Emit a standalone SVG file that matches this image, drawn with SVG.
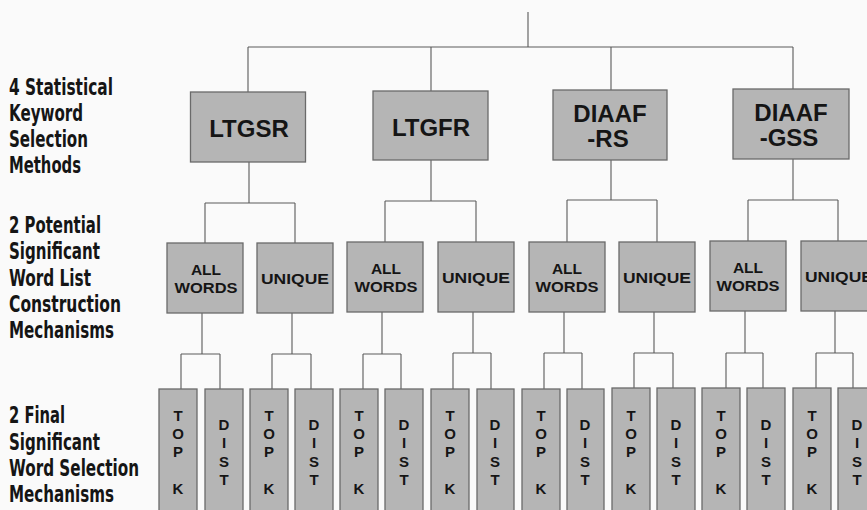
<svg xmlns="http://www.w3.org/2000/svg" width="867" height="510" viewBox="0 0 867 510">
<style>
.bg{fill:#fafafa}
.box{fill:#b5b5b5;stroke:#6a6a6a;stroke-width:1.3}
.ln{fill:none;stroke:#5a5a5a;stroke-width:1.1}
.t1{font-family:"Liberation Sans",Arial,sans-serif;font-weight:bold;font-size:24px;fill:#151515;text-anchor:middle}
.t2{font-family:"Liberation Sans",Arial,sans-serif;font-weight:bold;font-size:15.5px;fill:#151515;text-anchor:middle}
.t3{font-family:"Liberation Sans",Arial,sans-serif;font-weight:bold;font-size:15px;fill:#151515;text-anchor:middle}
.lab{font-family:"DejaVu Sans Condensed","Liberation Sans Narrow",sans-serif;font-weight:bold;font-size:22.5px;fill:#151515}
</style>
<rect class="bg" x="0" y="0" width="867" height="510"/>
<g id="labels">
<text class="lab" x="9" y="95" textLength="104" lengthAdjust="spacingAndGlyphs">4 Statistical</text>
<text class="lab" x="9" y="121" textLength="74" lengthAdjust="spacingAndGlyphs">Keyword</text>
<text class="lab" x="9" y="147" textLength="79" lengthAdjust="spacingAndGlyphs">Selection</text>
<text class="lab" x="9" y="173" textLength="72" lengthAdjust="spacingAndGlyphs">Methods</text>
<text class="lab" x="9" y="233" textLength="92" lengthAdjust="spacingAndGlyphs">2 Potential</text>
<text class="lab" x="9" y="259" textLength="91" lengthAdjust="spacingAndGlyphs">Significant</text>
<text class="lab" x="9" y="286" textLength="82" lengthAdjust="spacingAndGlyphs">Word List</text>
<text class="lab" x="9" y="312" textLength="112" lengthAdjust="spacingAndGlyphs">Construction</text>
<text class="lab" x="9" y="338" textLength="105" lengthAdjust="spacingAndGlyphs">Mechanisms</text>
<text class="lab" x="9" y="423" textLength="56" lengthAdjust="spacingAndGlyphs">2 Final</text>
<text class="lab" x="9" y="450" textLength="91" lengthAdjust="spacingAndGlyphs">Significant</text>
<text class="lab" x="9" y="476" textLength="130" lengthAdjust="spacingAndGlyphs">Word Selection</text>
<text class="lab" x="9" y="502" textLength="105" lengthAdjust="spacingAndGlyphs">Mechanisms</text>
</g>
<g id="connectors">
<path class="ln" d="M528,12V47M248,47H793M248,47V92M431,47V91M611,47V90M793,47V89"/>
<path class="ln" d="M249,162V203M205,203H295M205,203V243M295,203V243"/>
<path class="ln" d="M431,160V201M385,201H476M385,201V242M476,201V242"/>
<path class="ln" d="M611,160V200M567,200H657M567,200V242M657,200V242"/>
<path class="ln" d="M793,159V200M748,200H838M748,200V241M838,200V241"/>
<path class="ln" d="M202,313V354M181,354H220M181,354V389M220,354V389"/>
<path class="ln" d="M292,313V354M272,354H311M272,354V389M311,354V389"/>
<path class="ln" d="M382,312V354M363,354H401M363,354V389M401,354V389"/>
<path class="ln" d="M473,312V353M453,353H491M453,353V389M491,353V389"/>
<path class="ln" d="M564,312V353M544,353H582M544,353V389M582,353V389"/>
<path class="ln" d="M654,312V353M634,353H673M634,353V388M673,353V388"/>
<path class="ln" d="M745,311V353M726,353H763M726,353V388M763,353V388"/>
<path class="ln" d="M835,311V353M816,353H853M816,353V388M853,353V388"/>
</g>
<g id="ltgsr"><rect class="box" x="190.5" y="92" width="115" height="70"/><text class="t1" x="249" y="137">LTGSR</text></g>
<g id="ltgfr"><rect class="box" x="373" y="91" width="115" height="69"/><text class="t1" x="431" y="136">LTGFR</text></g>
<g id="diaaf-rs"><rect class="box" x="553" y="90" width="114" height="70"/><text class="t1" x="610" y="122">DIAAF</text><text class="t1" x="608" y="147">-RS</text></g>
<g id="diaaf-gss"><rect class="box" x="733" y="89" width="116" height="70"/><text class="t1" x="791" y="121">DIAAF</text><text class="t1" x="789" y="146">-GSS</text></g>
<g id="allwords-1"><rect class="box" x="167" y="243" width="76" height="70"/><text class="t2" x="206" y="275">ALL</text><text class="t2" x="206" y="293" textLength="63" lengthAdjust="spacingAndGlyphs">WORDS</text></g>
<g id="unique-1"><rect class="box" x="257" y="243" width="76" height="70"/><text class="t2" x="295" y="284" textLength="68" lengthAdjust="spacingAndGlyphs">UNIQUE</text></g>
<g id="allwords-2"><rect class="box" x="347" y="242" width="76" height="70"/><text class="t2" x="386" y="274">ALL</text><text class="t2" x="386" y="292" textLength="63" lengthAdjust="spacingAndGlyphs">WORDS</text></g>
<g id="unique-2"><rect class="box" x="438" y="242" width="76" height="70"/><text class="t2" x="476" y="283" textLength="68" lengthAdjust="spacingAndGlyphs">UNIQUE</text></g>
<g id="allwords-3"><rect class="box" x="529" y="242" width="76" height="70"/><text class="t2" x="567" y="274">ALL</text><text class="t2" x="567" y="292" textLength="63" lengthAdjust="spacingAndGlyphs">WORDS</text></g>
<g id="unique-3"><rect class="box" x="619" y="242" width="76" height="70"/><text class="t2" x="657" y="283" textLength="68" lengthAdjust="spacingAndGlyphs">UNIQUE</text></g>
<g id="allwords-4"><rect class="box" x="710" y="241" width="76" height="70"/><text class="t2" x="748" y="273">ALL</text><text class="t2" x="748" y="291" textLength="63" lengthAdjust="spacingAndGlyphs">WORDS</text></g>
<g id="unique-4"><rect class="box" x="801" y="241" width="76" height="70"/><text class="t2" x="839" y="282" textLength="68" lengthAdjust="spacingAndGlyphs">UNIQUE</text></g>
<g id="topk-1"><rect class="box" x="159" y="389" width="38" height="130"/><text class="t3" x="178"><tspan x="178" y="421">T</tspan><tspan x="178" y="439">O</tspan><tspan x="178" y="457">P</tspan><tspan x="178" y="494">K</tspan></text></g>
<g id="dist-1"><rect class="box" x="205" y="389" width="38" height="130"/><text class="t3" x="224"><tspan x="224" y="430">D</tspan><tspan x="224" y="448">I</tspan><tspan x="224" y="467">S</tspan><tspan x="224" y="485">T</tspan></text></g>
<g id="topk-2"><rect class="box" x="250" y="389" width="38" height="130"/><text class="t3" x="269"><tspan x="269" y="421">T</tspan><tspan x="269" y="439">O</tspan><tspan x="269" y="457">P</tspan><tspan x="269" y="494">K</tspan></text></g>
<g id="dist-2"><rect class="box" x="295" y="389" width="38" height="130"/><text class="t3" x="314"><tspan x="314" y="430">D</tspan><tspan x="314" y="448">I</tspan><tspan x="314" y="467">S</tspan><tspan x="314" y="485">T</tspan></text></g>
<g id="topk-3"><rect class="box" x="340" y="389" width="38" height="130"/><text class="t3" x="359"><tspan x="359" y="421">T</tspan><tspan x="359" y="439">O</tspan><tspan x="359" y="457">P</tspan><tspan x="359" y="494">K</tspan></text></g>
<g id="dist-3"><rect class="box" x="385" y="389" width="38" height="130"/><text class="t3" x="404"><tspan x="404" y="430">D</tspan><tspan x="404" y="448">I</tspan><tspan x="404" y="467">S</tspan><tspan x="404" y="485">T</tspan></text></g>
<g id="topk-4"><rect class="box" x="431" y="389" width="38" height="130"/><text class="t3" x="450"><tspan x="450" y="421">T</tspan><tspan x="450" y="439">O</tspan><tspan x="450" y="457">P</tspan><tspan x="450" y="494">K</tspan></text></g>
<g id="dist-4"><rect class="box" x="477" y="389" width="37" height="130"/><text class="t3" x="495"><tspan x="495" y="430">D</tspan><tspan x="495" y="448">I</tspan><tspan x="495" y="467">S</tspan><tspan x="495" y="485">T</tspan></text></g>
<g id="topk-5"><rect class="box" x="522" y="389" width="38" height="130"/><text class="t3" x="541"><tspan x="541" y="421">T</tspan><tspan x="541" y="439">O</tspan><tspan x="541" y="457">P</tspan><tspan x="541" y="494">K</tspan></text></g>
<g id="dist-5"><rect class="box" x="567" y="389" width="37" height="130"/><text class="t3" x="585"><tspan x="585" y="430">D</tspan><tspan x="585" y="448">I</tspan><tspan x="585" y="467">S</tspan><tspan x="585" y="485">T</tspan></text></g>
<g id="topk-6"><rect class="box" x="612" y="388" width="38" height="130"/><text class="t3" x="631"><tspan x="631" y="421">T</tspan><tspan x="631" y="439">O</tspan><tspan x="631" y="457">P</tspan><tspan x="631" y="494">K</tspan></text></g>
<g id="dist-6"><rect class="box" x="657" y="388" width="38" height="130"/><text class="t3" x="676"><tspan x="676" y="430">D</tspan><tspan x="676" y="448">I</tspan><tspan x="676" y="467">S</tspan><tspan x="676" y="485">T</tspan></text></g>
<g id="topk-7"><rect class="box" x="702" y="388" width="38" height="130"/><text class="t3" x="721"><tspan x="721" y="421">T</tspan><tspan x="721" y="439">O</tspan><tspan x="721" y="457">P</tspan><tspan x="721" y="494">K</tspan></text></g>
<g id="dist-7"><rect class="box" x="747" y="388" width="38" height="130"/><text class="t3" x="766"><tspan x="766" y="430">D</tspan><tspan x="766" y="448">I</tspan><tspan x="766" y="467">S</tspan><tspan x="766" y="485">T</tspan></text></g>
<g id="topk-8"><rect class="box" x="793" y="388" width="38" height="130"/><text class="t3" x="812"><tspan x="812" y="421">T</tspan><tspan x="812" y="439">O</tspan><tspan x="812" y="457">P</tspan><tspan x="812" y="494">K</tspan></text></g>
<g id="dist-8"><rect class="box" x="838" y="388" width="38" height="130"/><text class="t3" x="857"><tspan x="857" y="430">D</tspan><tspan x="857" y="448">I</tspan><tspan x="857" y="467">S</tspan><tspan x="857" y="485">T</tspan></text></g>
</svg>
